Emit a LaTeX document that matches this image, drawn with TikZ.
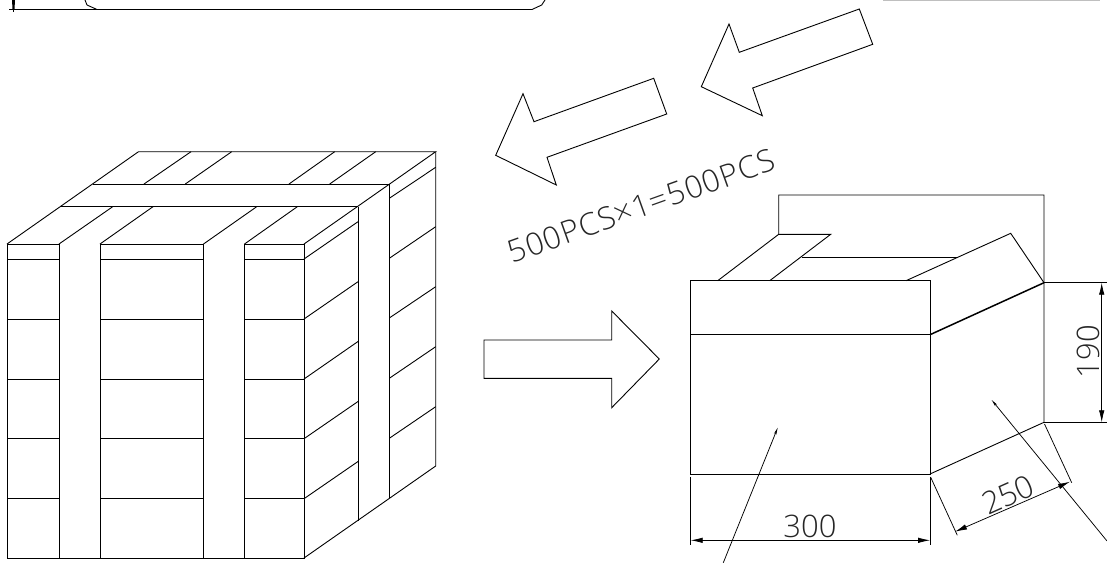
\documentclass[tikz,border=0pt]{standalone}
\usepackage{fontspec}
\usetikzlibrary{arrows.meta}
\setmainfont{Liberation Sans}
\newfontfamily\cadfont{Open Sans Light}
\tikzset{
  cad/.style={draw=black,line width=0.9pt,line join=miter},
  dim/.style={draw=black,line width=0.75pt},
  dimarrow/.style={dim,{Latex[length=12pt,width=5.5pt]}-{Latex[length=12pt,width=5.5pt]}},
  leader/.style={dim,-{Stealth[length=7pt,width=2.5pt]}},
  cadtext/.style={inner sep=0pt,text=black!85,font=\cadfont\fontsize{31}{31}\selectfont},
}
\begin{document}
\begin{tikzpicture}[x=1pt,y=-1pt]
\useasboundingbox (0,0) rectangle (1107,563);
% crate front
\draw[cad] (59,244) -- (7,244) -- (7,558) -- (304,558) -- (304,244) -- (244.5,244) -- (244.5,558);
\draw[cad] (100,244) -- (203.5,244);
\draw[cad] (59,244) -- (59,558) (100,244) -- (100,558) (203.5,244) -- (203.5,558);
\foreach \y in {259,319,379,438.7,498.7}{
  \draw[cad] (7,\y) -- (59,\y) (100,\y) -- (203.5,\y) (244.5,\y) -- (304,\y);
}
% crate top
\draw[cad] (7,244) -- (138.5,151.7) -- (435.7,151.7) -- (304,244);
\draw[cad] (61,206.7) -- (358,206.7) (92.7,184) -- (389.3,184);
\draw[cad] (59,244) -- (112.7,206.7) (100,244) -- (153,206.7) (203.5,244) -- (256.7,206.7) (244.5,244) -- (297.3,206.7);
\draw[cad] (144,184) -- (191,151.7) (185.3,184) -- (231.7,151.7) (289,184) -- (334.7,151.7) (329.7,184) -- (375.7,151.7);
% crate side
\draw[cad] (435.7,151.7) -- (435.7,466) -- (304,558);
\draw[cad] (358,206.7) -- (358,520.7) (389.3,184) -- (389.3,497.7);
\draw[cad] (304,259) -- (358,221.7) (304,319) -- (358,281.7) (304,379) -- (358,341.5) (304,438.7) -- (358,401.5) (304,498.7) -- (358,461.5);
\draw[cad] (389.3,198.3) -- (435.7,167.3) (389.3,258.3) -- (435.7,226.7) (389.3,318) -- (435.7,286.7) (389.3,378.3) -- (435.7,346.7) (389.3,438.3) -- (435.7,406.7);
% hollow arrows
\draw[cad] (859.3,9) -- (872.7,44.3) -- (752.7,88) -- (762.3,115.7) -- (701.3,86.7) -- (729,24) -- (739.3,52.3) -- cycle;
\draw[cad] (653.7,78.3) -- (666.7,114) -- (547,157.3) -- (556.3,185) -- (495.7,155.3) -- (523,93.7) -- (534,121.7) -- cycle;
\draw[cad] (484,340) -- (611.7,340) -- (611.7,311) -- (659.3,359) -- (611.7,407.7) -- (611.7,378.3) -- (484,378.3) -- cycle;
\node[cadtext,rotate=19.7] (qty) at (641,206) {\addfontfeature{LetterSpace=3}500PCS×1=500PCS};
% carton
\draw[cad] (690.7,280.7) rectangle (930,474);
\draw[cad] (690.7,334.7) -- (930,334.7);
\draw[cad] (778.7,234.3) -- (778.7,195) -- (1044,195) -- (1044,422.3) -- (930,474);
\draw[cad] (717.7,280.7) -- (778.7,234.3) -- (830.7,234.3) -- (769.7,280.7);
\draw[cad] (801.7,257.3) -- (958.3,257.3);
\draw[cad] (906,280.7) -- (1010.7,233.3) -- (1044,282.7);
\draw[draw=black,line width=1.5pt] (930,334.7) -- (1044,282.7);
% leaders
\coordinate (fa) at (723.3,562.7);
\coordinate (fb) at (777.7,427.7);
\coordinate (sa) at (1107,541);
\coordinate (sb) at (991.7,400);
\draw[leader] (fa) -- (fb);
\draw[leader] (sa) -- (sb);
% dimensions
\coordinate (wa) at (690.7,540.3);
\coordinate (wb) at (930,540.3);
\coordinate (da) at (955,531.7);
\coordinate (db) at (1070,481.7);
\coordinate (ha) at (1101.7,282.7);
\coordinate (hb) at (1101.7,422.3);
\draw[dim] (690.7,476.7) -- (690.7,545) (930,476.7) -- (930,545);
\draw[dimarrow] (wa) -- (wb);
\node[cadtext] (d300) at (810,526.7) {300};
\draw[dim] (1044.5,424) -- (1071.7,482.7) (930.7,477.3) -- (957.3,535.3);
\draw[dimarrow] (da) -- (db);
\node[cadtext,rotate=24] (d250) at (1008,495) {250};
\draw[dim] (1044,282.7) -- (1107,282.7) (1044,422.3) -- (1107,422.3);
\draw[dimarrow] (ha) -- (hb);
\node[cadtext,rotate=90] (d190) at (1088.3,351.7) {190};
% cropped top
\draw[cad] (9,9.5) -- (532,9.5) -- (541.7,5) -- (545,0);
\draw[cad] (85,0) -- (87,5) -- (97,9.5);
\draw[dim] (13.5,0) -- (13.5,12);
\fill (12,0) -- (15,0) -- (14.5,9) -- (12.5,9) -- cycle;
\draw[draw=black!25,line width=1pt] (883,0.5) -- (1100,0.5);
\end{tikzpicture}
\end{document}
